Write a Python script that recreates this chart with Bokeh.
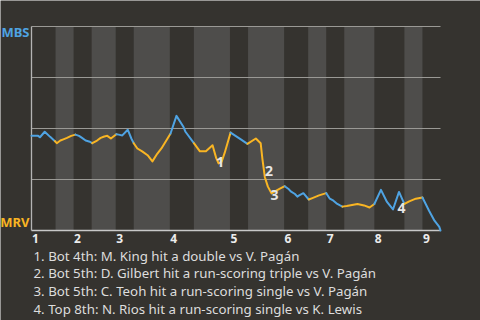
from bokeh.plotting import figure
from bokeh.models import Range1d
from bokeh.embed import file_html
from bokeh.resources import INLINE
from bokeh.core.properties import value

# game progress (plate appearances) and MBS win probability (%)
pa = [0, 1.1, 1.4, 2.2, 3.1, 3.9, 4.2, 4.8, 5.3, 5.9, 6.6, 7.3, 7.9, 8.4, 9.0, 9.7,
      10.1, 10.9, 11.5, 12.1, 12.6, 13.2, 14.1, 14.5, 15.1, 16.0, 16.6, 17.0, 17.6,
      18.4, 19.3, 20.1, 20.9, 21.6, 23.1, 24.1, 25.3, 25.6, 27.0, 28.0, 29.0, 30.1,
      30.7, 31.1, 31.6, 32.1, 33.1, 34.8, 35.9, 37.3, 38.1, 38.4, 38.8, 39.3, 39.9,
      40.7, 41.3, 42.1, 42.8, 43.1, 43.8, 44.2, 44.5, 45.2, 46.1, 46.7, 47.8, 49.0,
      49.6, 50.2, 50.7, 51.3, 51.7, 52.4, 54.2, 55.3, 56.2, 57.0, 58.1, 59.1, 60.1,
      61.1, 61.6, 62.0, 62.8, 63.9, 65.0, 66.1, 67.0, 67.8, 68.0]
wp_mbs = [46.4, 46.4, 45.7, 48.4, 45.9, 43.8, 42.8, 44.1, 44.7, 45.4, 46.4, 47.0, 46.4,
          45.4, 44.1, 43.5, 42.8, 44.1, 45.4, 46.1, 46.4, 45.1, 47.2, 47.0, 46.6, 49.4,
          45.1, 42.8, 40.2, 38.8, 36.9, 33.9, 37.6, 40.2, 47.4, 56.2, 50.6, 48.4, 42.8,
          38.8, 38.8, 41.8, 35.6, 32.9, 33.6, 37.9, 48.0, 44.7, 42.5, 45.1, 42.8, 34.9,
          26.1, 21.5, 18.2, 19.5, 20.5, 21.7, 20.2, 19.2, 17.9, 16.6, 17.2, 18.3, 15.2,
          15.9, 17.2, 18.3, 15.6, 14.6, 13.3, 12.3, 11.7, 12.0, 13.0, 12.3, 11.3, 13.0,
          19.9, 14.0, 10.3, 18.9, 15.6, 13.0, 14.3, 15.6, 16.2, 9.7, 4.8, 1.8, 0.0]

half_bounds = [0, 4, 7, 10, 14, 17, 23, 27, 33, 36, 42, 46, 49, 52, 57, 62, 65, 68]
innings = ["1", "2", "3", "4", "5", "6", "7", "8", "9"]
teams = ["MBS", "MRV"]
grid_levels = [0.25, 0.5, 0.75, 1.0]

event_nums = ["1", "2", "3", "4"]
event_x = [31.4, 39.5, 40.4, 61.5]
event_y = [33.6, 29.3, 17.6, 11.2]
notes = [
    "1. Bot 4th: M. King hit a double vs V. Pagán",
    "2. Bot 5th: D. Gilbert hit a run-scoring triple vs V. Pagán",
    "3. Bot 5th: C. Teoh hit a run-scoring single vs V. Pagán",
    "4. Top 8th: N. Rios hit a run-scoring single vs K. Lewis",
]

BG = "#35332f"
BAND = "#4e4d4b"
BLUE = "#4fa3e2"
ORANGE = "#f9b523"
FONT = "Noto Sans"

W, H = 480, 320
L, R, T, B = 31, 440, 26, 230          # plot area in pixels
XMAX = half_bounds[-1]
sx = XMAX / (R - L)
sy = 1.0 / (B - T)


def px_x(px):
    return (px - L) * sx


def px_y(py):
    return (B - py) * sy


p = figure(width=W, height=H, output_backend="svg", toolbar_location=None,
           x_range=Range1d(px_x(0), px_x(W)), y_range=Range1d(px_y(H), px_y(0)),
           background_fill_color=BG, border_fill_color=BG, outline_line_color=None,
           min_border=0)
p.axis.visible = False
p.grid.visible = False

# bottom-half bands
lefts = [half_bounds[i] for i in range(1, len(half_bounds) - 1, 2)]
rights = [half_bounds[i + 1] for i in range(1, len(half_bounds) - 1, 2)]
p.quad(left=lefts, right=rights, bottom=0, top=1, fill_color=BAND, line_color=None)

# grid lines and axes
p.segment(x0=[0] * len(grid_levels), x1=[XMAX] * len(grid_levels), y0=grid_levels,
          y1=grid_levels, line_color="#9a9995", line_width=1)
p.segment(x0=[0], x1=[XMAX], y0=[0], y1=[0], line_color="#c8c8c8", line_width=1.3)
p.segment(x0=[0], x1=[0], y0=[0], y1=[1], line_color="#b4b4b4", line_width=1.3)

# line split into runs coloured by half-inning


def half_index(x):
    for i in range(len(half_bounds) - 1):
        if half_bounds[i] <= x < half_bounds[i + 1]:
            return i
    return len(half_bounds) - 2


xs, ys, cols = [], [], []
for j in range(len(pa) - 1):
    mid = (pa[j] + pa[j + 1]) / 2
    c = BLUE if half_index(mid) % 2 == 0 else ORANGE
    if cols and cols[-1] == c:
        xs[-1].append(pa[j + 1])
        ys[-1].append(wp_mbs[j + 1] / 100)
    else:
        xs.append([pa[j], pa[j + 1]])
        ys.append([wp_mbs[j] / 100, wp_mbs[j + 1] / 100])
        cols.append(c)
p.multi_line(xs=xs, ys=ys, line_color=cols, line_width=2, line_join="round", line_cap="round")

# event markers
p.text(x=event_x, y=[v / 100 for v in event_y], text=event_nums, text_align="center",
       text_baseline="middle", text_font=value(FONT), text_font_style="bold",
       text_font_size="14px", text_color="#e6e6e6")

# team labels
p.text(x=[px_x(L - 2)] * 2, y=[px_y(31.5), px_y(221.5)], text=teams, text_align="right",
       text_baseline="alphabetic", text_font=value(FONT), text_font_style="bold",
       text_font_size="13px", text_color=[BLUE, ORANGE])

# inning labels
p.text(x=[half_bounds[2 * k] + px_x(L + 0.5) for k in range(len(innings))],
       y=[px_y(238)] * len(innings), text=innings, text_align="left",
       text_baseline="alphabetic", text_font=value(FONT), text_font_style="bold",
       text_font_size="12px", text_color="#ececec")

# footnotes
p.text(x=[px_x(33)] * len(notes), y=[px_y(255 + 17.8 * i) for i in range(len(notes))],
       text=notes, text_align="left", text_baseline="alphabetic", text_font=value(FONT),
       text_font_size="13.3px", text_color="#dddddd")

open("out.html", "w").write(file_html(p, INLINE))
